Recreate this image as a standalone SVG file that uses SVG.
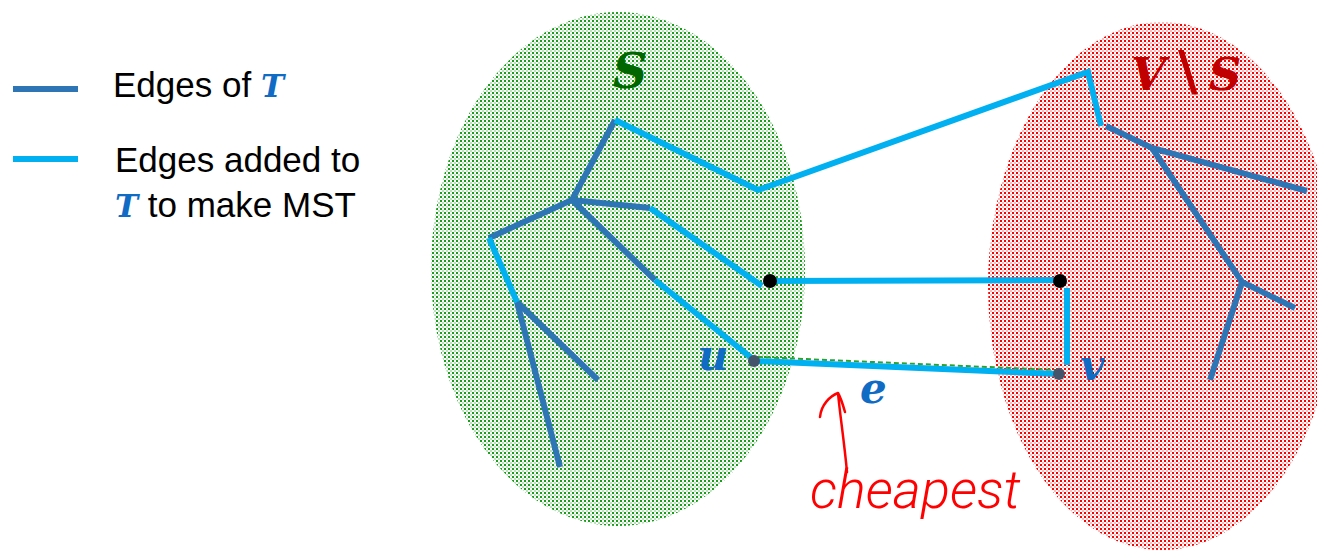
<svg xmlns="http://www.w3.org/2000/svg" width="1317" height="551" viewBox="0 0 1317 551">
<style>
.t{stroke:#2E75B6;stroke-width:6;fill:none;stroke-linecap:butt}
.a{stroke:#00B0F0;stroke-width:6;fill:none;stroke-linecap:butt}
.lbl{font-family:"Liberation Sans",Arial,sans-serif;font-size:35px;fill:#000}
.m{font-family:"DejaVu Serif","Liberation Serif",serif;font-weight:bold;font-style:italic}
.ink{stroke:#FF0000;stroke-width:2.5;fill:none;stroke-linecap:round;stroke-linejoin:round}
</style>
<defs>
<pattern id="pg" patternUnits="userSpaceOnUse" width="4" height="4">
<rect x="0" y="0" width="4" height="4" fill="#FFFFFF"/>
<rect x="0" y="0" width="2" height="2" fill="#18A018"/>
<rect x="2" y="2" width="2" height="2" fill="#B8E2B8"/>
</pattern>
<pattern id="pr" patternUnits="userSpaceOnUse" width="4" height="4">
<rect x="0" y="0" width="4" height="4" fill="#FFFFFF"/>
<rect x="0" y="0" width="2" height="2" fill="#FF0000"/>
<rect x="2" y="2" width="2" height="2" fill="#FFB8B8"/>
</pattern>
</defs>

<g id="legend">
<line x1="13" y1="89" x2="78" y2="89" class="t" stroke-width="7"/>
<line x1="13" y1="159" x2="78" y2="159" class="a"/>
<text class="lbl" x="113" y="97">Edges of <tspan class="m" fill="#0F6BC4" font-size="31">T</tspan></text>
<text class="lbl" x="115" y="172">Edges added to</text>
<text class="lbl" x="115" y="217"><tspan class="m" fill="#0F6BC4" font-size="31">T</tspan> to make MST</text>
</g>

<g id="set-S">
<ellipse cx="618" cy="269" rx="187" ry="257" fill="url(#pg)"/>
<text class="m" x="630" y="88" font-size="48" fill="#006600" text-anchor="middle">S</text>
</g>

<g id="set-VS">
<ellipse cx="1162" cy="286" rx="174" ry="264" fill="url(#pr)"/>
<text class="m" x="1131" y="90" font-size="45" fill="#C00000" xml:space="preserve">V<tspan font-style="normal" font-size="54" dx="12">\</tspan><tspan dx="11">S</tspan></text>
</g>

<g id="connectors">
<!-- tree T inside S -->
<polyline class="t" points="615,120 572,200 489,238"/>
<polyline class="t" points="572,200 650,208"/>
<polyline class="t" points="572,200 655,280"/>
<line class="t" x1="517" y1="302" x2="598" y2="380"/>
<line class="t" x1="517" y1="302" x2="560" y2="467"/>
<!-- tree T inside V\S -->
<polyline class="t" points="1106,126 1152,148 1307,191"/>
<polyline class="t" points="1152,148 1242,282 1295,308"/>
<line class="t" x1="1242" y1="282" x2="1210" y2="380"/>
<!-- added edges -->
<polyline class="a" points="615,120 758,190 1088,72 1101,126"/>
<line class="a" x1="489" y1="238" x2="517" y2="302"/>
<polyline class="a" points="650,208 762,286"/>
<polyline class="a" points="655,280 754,360"/>
<line class="a" x1="770" y1="281" x2="1060" y2="280"/>
<line class="a" x1="1067" y1="288" x2="1067" y2="365"/>
<!-- edge e -->
<line x1="758" y1="357" x2="1056" y2="370" stroke="#2EA02E" stroke-width="2" stroke-dasharray="5 3"/>
<line class="a" x1="754" y1="361" x2="1058" y2="374"/>
</g>

<g id="vertices">
<circle cx="770" cy="281" r="7" fill="#000"/>
<circle cx="1060" cy="281" r="7" fill="#000"/>
<circle id="u-dot" cx="754" cy="361" r="6" fill="#44546A"/>
<circle id="v-dot" cx="1059" cy="374" r="6" fill="#44546A"/>
</g>

<g id="labels">
<text class="m" x="698" y="370" font-size="42" fill="#0F6BC4">u</text>
<text class="m" x="1080" y="380" font-size="42" fill="#0F6BC4">v</text>
<text class="m" x="860" y="403" font-size="42" fill="#0F6BC4">e</text>
</g>

<g id="annotation">
<path class="ink" d="M847,472 C844,440 840,415 838,393 M820,417 C821,405 830,396 838,393 C841,398 843,405 845,412"/>
<text x="810" y="508" font-family="Roboto,'Liberation Sans',sans-serif" font-weight="300" font-style="italic" font-size="54" fill="#FF0000">cheapest</text>
</g>
</svg>
